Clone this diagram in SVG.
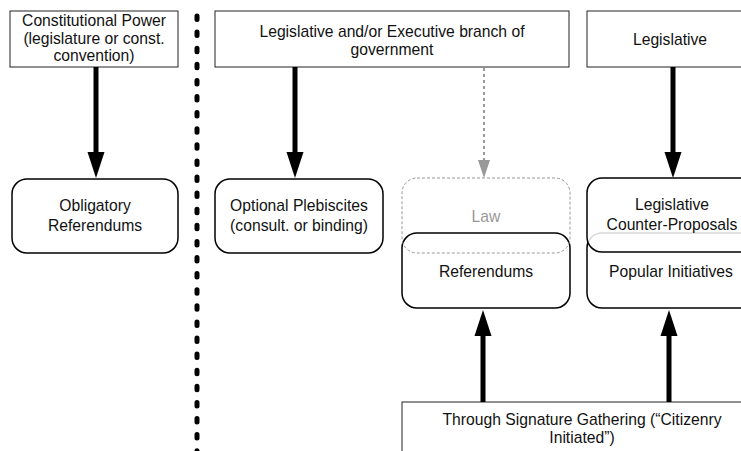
<svg xmlns="http://www.w3.org/2000/svg" width="741" height="451" viewBox="0 0 741 451">
<style>
text{font-family:"Liberation Sans",Arial,sans-serif;font-size:15.7px;fill:#111;text-anchor:middle}
.sq{fill:#fff;stroke:#222;stroke-width:1}
.rd{fill:#fff;stroke:#000;stroke-width:1.5}
.arr{stroke:#000;stroke-width:5;fill:none;marker-end:url(#ah)}
.garr{stroke:#999;stroke-width:2;stroke-dasharray:3 3;fill:none;marker-end:url(#gah)}
.gray{fill:#999}
</style>
<defs>
<marker id="ah" markerUnits="userSpaceOnUse" markerWidth="26" markerHeight="17" refX="0" refY="8.5" orient="auto" overflow="visible"><path d="M0,0 L26,8.5 L0,17 z" fill="#000"/></marker>
<marker id="gah" markerUnits="userSpaceOnUse" markerWidth="18" markerHeight="12" refX="0" refY="6" orient="auto" overflow="visible"><path d="M0,0 L18,6 L0,12 z" fill="#999"/></marker>
</defs>
<rect width="741" height="451" fill="#fff"/>
<line x1="197" y1="16" x2="197" y2="451" stroke="#000" stroke-width="5" stroke-linecap="round" stroke-dasharray="3.5 12.6"/>
<g id="const-power"><rect class="sq" x="10" y="11" width="168" height="56"/><text x="94" y="26">Constitutional Power</text><text x="94" y="43.5">(legislature or const.</text><text x="94" y="61">convention)</text></g>
<g id="leg-exec"><rect class="sq" x="215" y="11" width="354" height="56"/><text x="392" y="37">Legislative and/or Executive branch of</text><text x="392" y="55">government</text></g>
<g id="legislative"><rect class="sq" x="587" y="11" width="170" height="56"/><text x="670" y="45">Legislative</text></g>
<g id="obligatory"><rect class="rd" x="12" y="179" width="166" height="74" rx="15"/><text x="95" y="211">Obligatory</text><text x="95" y="231">Referendums</text></g>
<g id="optional"><rect class="rd" x="215" y="179" width="168" height="74" rx="15"/><text x="299" y="211">Optional Plebiscites</text><text x="299" y="231">(consult. or binding)</text></g>
<g id="referendums"><rect class="rd" x="402" y="233" width="168" height="75" rx="15"/><text x="486" y="277">Referendums</text></g>
<g id="law"><rect x="402" y="178" width="168" height="75" rx="15" fill="none" stroke="#999" stroke-width="1" stroke-dasharray="3 2"/><text class="gray" x="486" y="222">Law</text></g>
<g id="popular"><rect class="rd" x="587" y="233" width="169" height="75" rx="15"/><text x="671" y="277">Popular Initiatives</text></g>
<g id="counter"><rect x="587" y="178" width="169" height="74" rx="15" fill="#fff" fill-opacity="0.85" stroke="#000" stroke-width="1.5"/><text x="672" y="210">Legislative</text><text x="672" y="230">Counter-Proposals</text></g>
<g id="signature"><rect class="sq" x="402" y="402" width="360" height="60"/><text x="582" y="425">Through Signature Gathering (“Citizenry</text><text x="582" y="443">Initiated”)</text></g>
<g id="connectors">
<line class="arr" x1="96" y1="67" x2="96" y2="152"/>
<line class="arr" x1="295" y1="67" x2="295" y2="152"/>
<line class="arr" x1="673" y1="67" x2="673" y2="152"/>
<line class="garr" x1="484" y1="68" x2="484" y2="160"/>
<line class="arr" x1="483" y1="402" x2="483" y2="336"/>
<line class="arr" x1="669" y1="402" x2="669" y2="336"/>
</g>
</svg>
